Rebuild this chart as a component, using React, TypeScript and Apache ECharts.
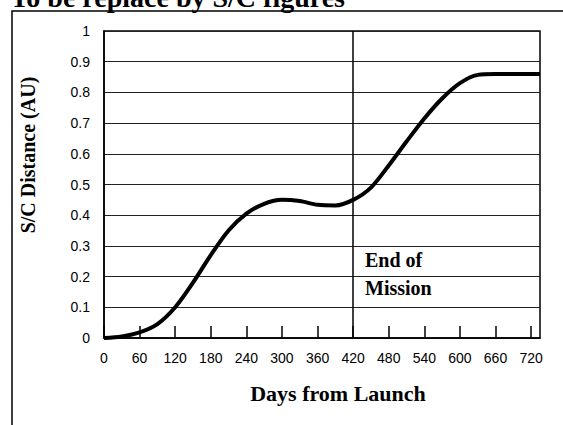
import React, { useEffect, useRef } from "react";
import * as echarts from "echarts";

const days = [0, 30, 60, 90, 120, 150, 180, 210, 240, 270, 300, 330, 360, 390, 420, 450, 480, 510, 540, 570, 600, 630, 660, 690, 720, 735];
const distance = [0, 0.005, 0.018, 0.045, 0.1, 0.18, 0.27, 0.35, 0.405, 0.437, 0.45, 0.446, 0.434, 0.432, 0.45, 0.49, 0.562, 0.64, 0.715, 0.78, 0.83, 0.857, 0.86, 0.86, 0.86, 0.86];
const endOfMissionDay = 420;
const titleText = "To be replace by S/C figures";
const xTitle = "Days from Launch";
const yTitle = "S/C Distance (AU)";
const noteLines = ["End of", "Mission"];

export default function App() {
  const ref = useRef<HTMLDivElement>(null);
  useEffect(() => {
    if (!ref.current) return;
    const chart = echarts.init(ref.current, null, { renderer: "svg" });
    const serif = "Liberation Serif";
    const sans = "Liberation Sans";
    chart.setOption({
      animation: false,
      backgroundColor: "#fff",
      grid: {
        left: 104,
        top: 31,
        right: 23,
        bottom: 87,
        show: true,
        borderColor: "#000",
        borderWidth: 1.5,
        containLabel: false,
      },
      xAxis: {
        type: "value",
        min: 0,
        max: 735,
        interval: 60,
        axisLine: { show: true, lineStyle: { color: "#000", width: 1.5 } },
        axisTick: { show: true, inside: true, length: 12, lineStyle: { color: "#000", width: 1.5 } },
        splitLine: { show: false },
        axisLabel: {
          showMaxLabel: false,
          color: "#000",
          fontFamily: sans,
          fontSize: 14,
          margin: 13,
          formatter: (v: number) => (v % 60 === 0 ? String(v) : ""),
        },
      },
      yAxis: {
        type: "value",
        min: 0,
        max: 1,
        interval: 0.1,
        axisLine: { show: true, lineStyle: { color: "#000", width: 1.5 } },
        axisTick: { show: false },
        splitLine: { show: true, lineStyle: { color: "#222", width: 1 } },
        axisLabel: {
          color: "#000",
          fontFamily: sans,
          fontSize: 14,
          margin: 14,
          formatter: (v: number) => String(Math.round(v * 10) / 10),
        },
      },
      series: [
        {
          type: "line",
          data: days.map((d, i) => [d, distance[i]]),
          smooth: 0.3,
          symbol: "none",
          lineStyle: { color: "#000", width: 4 },
          markLine: {
            silent: true,
            symbol: "none",
            label: { show: false },
            lineStyle: { color: "#000", width: 1.5, type: "solid" },
            data: [{ xAxis: endOfMissionDay }],
          },
        },
      ],
      graphic: [
        {
          type: "rect",
          shape: { x: 12, y: 11, width: 700, height: 600 },
          style: { fill: "none", stroke: "#000", lineWidth: 1.5 },
        },
        {
          type: "text",
          x: 345,
          y: 11,
          style: {
            text: titleText,
            fill: "#000",
            fontFamily: serif,
            fontWeight: "bold",
            fontSize: 28,
            align: "right",
            verticalAlign: "bottom",
          },
        },
        {
          type: "text",
          x: 28,
          y: 155,
          rotation: Math.PI / 2,
          style: {
            text: yTitle,
            fill: "#000",
            fontFamily: serif,
            fontWeight: "bold",
            fontSize: 20,
            align: "center",
            verticalAlign: "middle",
          },
        },
        {
          type: "text",
          x: 338,
          y: 393,
          style: {
            text: xTitle,
            fill: "#000",
            fontFamily: serif,
            fontWeight: "bold",
            fontSize: 22,
            align: "center",
            verticalAlign: "middle",
          },
        },
        {
          type: "text",
          x: 365,
          y: 260,
          style: {
            text: noteLines[0],
            fill: "#000",
            fontFamily: serif,
            fontWeight: "bold",
            fontSize: 20,
            align: "left",
            verticalAlign: "middle",
          },
        },
        {
          type: "text",
          x: 365,
          y: 288,
          style: {
            text: noteLines[1],
            fill: "#000",
            fontFamily: serif,
            fontWeight: "bold",
            fontSize: 20,
            align: "left",
            verticalAlign: "middle",
          },
        },
      ],
    });
    return () => chart.dispose();
  }, []);
  return (
    <div
      ref={ref}
      style={{ position: "fixed", left: 0, top: 0, width: 563, height: 425 }}
    />
  );
}
